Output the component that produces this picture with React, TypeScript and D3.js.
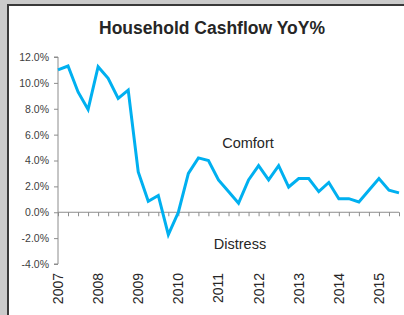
import { useEffect, useRef } from 'react';
import * as d3 from 'd3';

// quarterly, 2007 Q1 .. 2015 Q3
const years = ['2007', '2008', '2009', '2010', '2011', '2012', '2013', '2014', '2015'];
const quarters = years.flatMap(y => ['Q1', 'Q2', 'Q3', 'Q4'].map(q => `${y} ${q}`)).slice(0, 35);
const cashflow = [
  11.0, 11.3, 9.3, 7.95, 11.25, 10.35, 8.8, 9.44,
  3.12, 0.85, 1.3, -1.73, 0.0, 3.0, 4.2, 4.0,
  2.5, 1.6, 0.7, 2.5, 3.6, 2.5, 3.6, 1.95,
  2.6, 2.6, 1.6, 2.3, 1.05, 1.05, 0.8, 1.7,
  2.6, 1.7, 1.5,
];
const yTicks = [-4, -2, 0, 2, 4, 6, 8, 10, 12];

export default function App() {
  const ref = useRef<SVGSVGElement>(null);

  useEffect(() => {
    const svg = d3.select(ref.current);
    svg.selectAll('*').remove();

    const W = 404, H = 315;
    const font = 'Arial, "Liberation Sans", sans-serif';

    // Frame
    svg.append('rect').attr('width', W).attr('height', H).attr('fill', '#cbcbcb');
    svg.append('rect').attr('x', 7).attr('y', 4).attr('width', W - 7).attr('height', H - 4).attr('fill', '#3a3a3a');
    svg.append('rect').attr('x', 9).attr('y', 6).attr('width', W - 9).attr('height', H - 6).attr('fill', '#fff');

    const left = 58, right = 399, top = 57, bottom = 264;

    const x = d3.scalePoint<string>().domain(quarters).range([left, right]);
    const y = d3.scaleLinear().domain([-4, 12]).range([bottom, top]);

    // Title
    svg.append('text')
      .attr('x', 212).attr('y', 34)
      .attr('text-anchor', 'middle')
      .attr('font-family', font).attr('font-weight', 'bold').attr('font-size', 17.5)
      .attr('fill', '#262626')
      .text('Household Cashflow YoY%');

    // Y axis
    const yAxis = svg.append('g')
      .attr('transform', `translate(${left},0)`)
      .call(d3.axisLeft(y).tickValues(yTicks).tickSize(4).tickPadding(5).tickFormat(d => `${(+d).toFixed(1)}%`));
    yAxis.select('.domain').attr('stroke', '#8c8c8c').attr('d', `M-4,${top}H0V${bottom}H-4`);
    yAxis.selectAll('.tick line').attr('stroke', '#8c8c8c');
    yAxis.selectAll('.tick text')
      .attr('font-family', font).attr('font-size', 10.5).attr('fill', '#404040');

    // X axis on zero line
    const xAxis = svg.append('g')
      .attr('transform', `translate(0,${y(0)})`)
      .call(d3.axisBottom(x).tickSize(4).tickFormat(() => ''));
    xAxis.select('.domain').attr('stroke', '#8c8c8c').attr('d', `M${left},0H${right}`);
    xAxis.selectAll('.tick line').attr('stroke', '#8c8c8c');

    // Year labels, rotated
    svg.append('g')
      .selectAll('text')
      .data(years)
      .join('text')
      .attr('transform', d => `translate(${(x(`${d} Q1`) as number) + 5},${bottom + 9}) rotate(-90)`)
      .attr('text-anchor', 'end')
      .attr('font-family', font).attr('font-size', 14)
      .attr('fill', '#262626')
      .text(d => d);

    // Annotations
    svg.append('text')
      .attr('x', 248).attr('y', 148)
      .attr('text-anchor', 'middle')
      .attr('font-family', font).attr('font-size', 14.5).attr('fill', '#262626')
      .text('Comfort');
    svg.append('text')
      .attr('x', 240).attr('y', 249)
      .attr('text-anchor', 'middle')
      .attr('font-family', font).attr('font-size', 14.5).attr('fill', '#262626')
      .text('Distress');

    // Line
    const line = d3.line<number>()
      .x((_, i) => x(quarters[i]) as number)
      .y(d => y(d));

    svg.append('path')
      .datum(cashflow)
      .attr('fill', 'none')
      .attr('stroke', '#00b0f0')
      .attr('stroke-width', 3)
      .attr('stroke-linejoin', 'miter')
      .attr('d', line);
  }, []);

  return (
    <>
      <style>{'body{margin:0}'}</style>
      <svg ref={ref} width={404} height={315} style={{ display: 'block' }} />
    </>
  );
}
